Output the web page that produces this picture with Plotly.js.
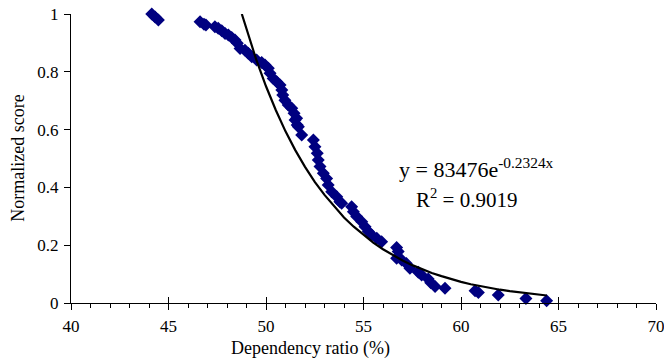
<!DOCTYPE html>
<html>
<head>
<meta charset="utf-8">
<script src="https://cdn.plot.ly/plotly-3.0.1.min.js"></script>
<style>
html,body{margin:0;padding:0;background:#fff;}
#chart{width:664px;height:361px;}
</style>
</head>
<body>
<div id="chart"></div>
<script>
// Scatter data: dependency ratio (%) vs normalized score
var ratio = [44.14,44.31,44.48,46.62,46.82,46.92,47.38,47.55,47.73,47.90,48.07,48.24,48.41,48.53,48.67,48.92,49.09,49.27,49.52,49.78,49.95,50.12,50.21,50.37,50.55,50.72,50.81,50.86,50.97,51.14,51.32,51.44,51.49,51.57,51.60,51.66,51.83,52.43,52.51,52.63,52.68,52.77,52.94,53.11,53.19,53.37,53.63,53.79,53.88,54.39,54.48,54.65,54.91,55.08,55.25,55.42,55.68,55.93,56.70,56.78,56.70,56.96,57.20,57.38,57.81,57.98,58.32,58.45,58.67,59.18,60.72,60.89,61.91,63.33,64.39];
var score = [1.000,0.990,0.979,0.973,0.965,0.962,0.956,0.951,0.942,0.933,0.927,0.919,0.910,0.899,0.881,0.875,0.864,0.852,0.841,0.832,0.824,0.812,0.795,0.777,0.766,0.754,0.737,0.720,0.702,0.685,0.674,0.657,0.633,0.639,0.616,0.610,0.581,0.564,0.541,0.518,0.495,0.472,0.449,0.431,0.408,0.385,0.368,0.350,0.345,0.333,0.316,0.299,0.281,0.264,0.247,0.235,0.224,0.212,0.192,0.178,0.155,0.149,0.137,0.120,0.106,0.097,0.083,0.070,0.057,0.051,0.042,0.036,0.028,0.016,0.008];

// Exponential trendline
var trendX = [48.76,49.0,49.5,50.0,50.5,51.0,51.5,52.0,52.5,53.0,53.5,54.0,54.5,55.0,55.5,56.0,56.5,57.0,57.5,58.0,58.5,59.0,59.5,60.0,60.5,61.0,61.5,62.0,62.5,63.0,63.5,64.0,64.4];
var trendY = [1.000,0.946,0.842,0.750,0.668,0.594,0.529,0.471,0.419,0.374,0.333,0.296,0.264,0.235,0.209,0.186,0.166,0.147,0.131,0.117,0.104,0.093,0.082,0.073,0.065,0.058,0.052,0.046,0.041,0.037,0.033,0.029,0.026];

var xTicks = [40,45,50,55,60,65,70];
var yTicks = [0,0.2,0.4,0.6,0.8,1];
var yTickText = ["0","0.2","0.4","0.6","0.8","1"];

var eqText = "y = 83476e<sup>-0.2324x</sup>";
var r2Text = "R<sup>2</sup> = 0.9019";
var xTitle = "Dependency ratio (%)";
var yTitle = "Normalized score";

var serif = "'Liberation Serif', 'Times New Roman', Times, serif";

var traces = [
  {
    x: ratio, y: score, type: "scatter", mode: "markers",
    marker: {symbol: "diamond", size: 10, color: "#000080", line: {width: 0}},
    xaxis: "x", yaxis: "y", hoverinfo: "x+y", showlegend: false, cliponaxis: false
  },
  {
    x: trendX, y: trendY, type: "scatter", mode: "lines",
    line: {color: "#000000", width: 2.2},
    xaxis: "x2", yaxis: "y", hoverinfo: "skip", showlegend: false
  }
];

var layout = {
  width: 664, height: 361,
  margin: {l: 71, r: 8, t: 14, b: 58},
  paper_bgcolor: "#ffffff", plot_bgcolor: "#ffffff",
  font: {family: serif, size: 17, color: "#000"},
  xaxis: {
    range: [40, 70.0001],
    tickmode: "array", tickvals: xTicks, ticktext: xTicks.map(String),
    showgrid: false, zeroline: false,
    showline: true, linecolor: "#000", linewidth: 1,
    ticks: "outside", ticklen: 6, tickwidth: 1, tickcolor: "#000",
    minor: {dtick: 1, tick0: 40, ticks: "outside", ticklen: 4, tickcolor: "#000", tickwidth: 1, showgrid: false},
    tickfont: {family: serif, size: 17, color: "#000"},
    ticklabelstandoff: 2, ticklabeloverflow: "allow",
    fixedrange: true
  },
  xaxis2: {
    range: [40, 70.0001],
    tickmode: "array", tickvals: xTicks,
    overlaying: "x", anchor: "y", side: "bottom",
    showgrid: false, zeroline: false, showline: false,
    ticks: "inside", ticklen: 6, tickwidth: 1, tickcolor: "#000",
    showticklabels: false, fixedrange: true
  },
  yaxis: {
    range: [0, 1.0001],
    tickmode: "array", tickvals: yTicks, ticktext: yTickText,
    showgrid: false, zeroline: false,
    showline: true, linecolor: "#000", linewidth: 1,
    ticks: "outside", ticklen: 6, tickwidth: 1, tickcolor: "#000",
    tickfont: {family: serif, size: 17, color: "#000"},
    ticklabelstandoff: 2, ticklabeloverflow: "allow",
    fixedrange: true
  },
  annotations: [
    {text: eqText, xref: "paper", yref: "paper", x: 0.693, y: 0.468, showarrow: false,
     font: {family: serif, size: 22, color: "#000"}, xanchor: "center", yanchor: "middle"},
    {text: r2Text, xref: "paper", yref: "paper", x: 0.676, y: 0.363, showarrow: false,
     font: {family: serif, size: 21, color: "#000"}, xanchor: "center", yanchor: "middle"},
    {text: xTitle, xref: "paper", yref: "paper", x: 0.409, y: -0.158, showarrow: false,
     font: {family: serif, size: 18, color: "#000"}, xanchor: "center", yanchor: "middle"},
    {text: yTitle, xref: "paper", yref: "paper", x: -0.092, y: 0.5, showarrow: false, textangle: -90,
     font: {family: serif, size: 18, color: "#000"}, xanchor: "center", yanchor: "middle"}
  ]
};

Plotly.newPlot("chart", traces, layout, {displayModeBar: false, staticPlot: true});
</script>
</body>
</html>
